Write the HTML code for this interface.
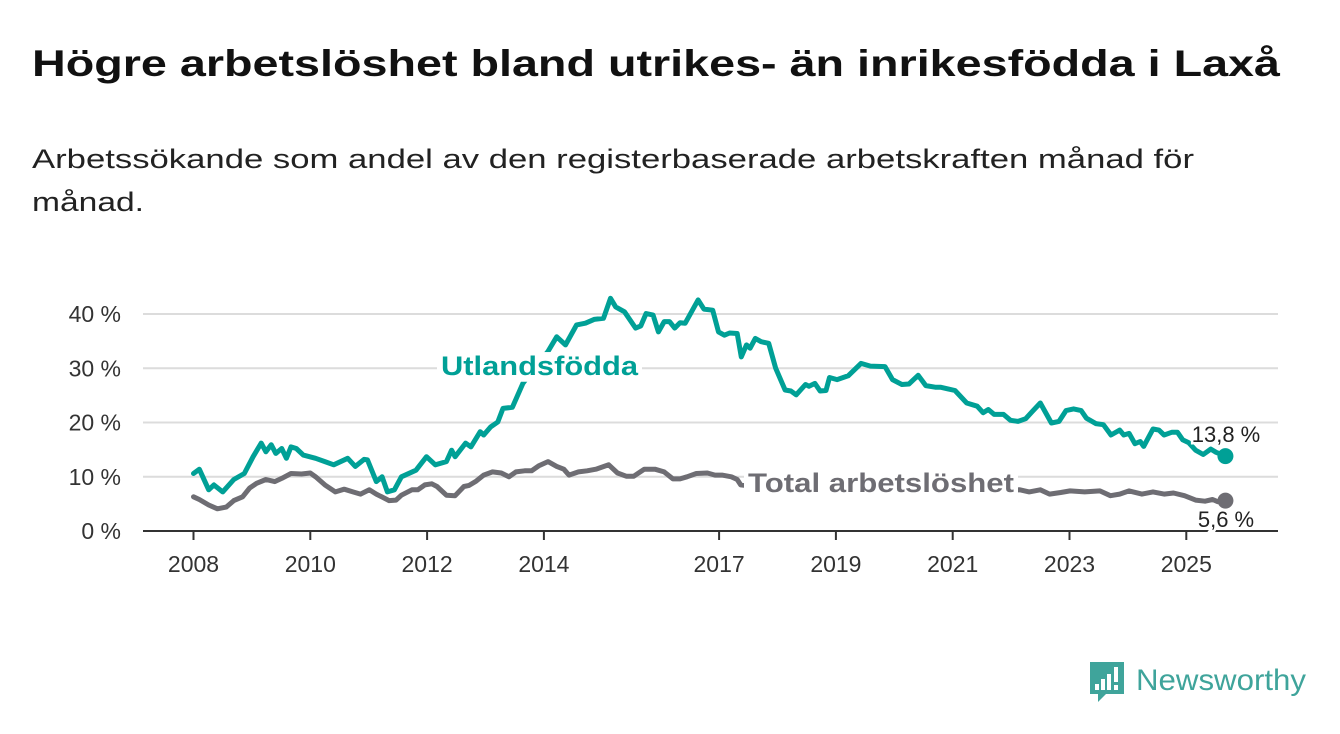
<!DOCTYPE html>
<html><head><meta charset="utf-8"><style>
html,body{margin:0;padding:0;background:#fff;}
svg{display:block;font-family:"Liberation Sans",sans-serif;}
</style></head><body>
<svg id="chart" width="1340" height="734" viewBox="0 0 1340 734" xmlns="http://www.w3.org/2000/svg">
<text x="32" y="76" font-size="37" font-weight="bold" fill="#111" textLength="1248" lengthAdjust="spacingAndGlyphs">Högre arbetslöshet bland utrikes- än inrikesfödda i Laxå</text>
<text x="32" y="168" font-size="27" fill="#222" textLength="1162" lengthAdjust="spacingAndGlyphs">Arbetssökande som andel av den registerbaserade arbetskraften månad för</text>
<text x="32" y="211" font-size="27" fill="#222" textLength="112" lengthAdjust="spacingAndGlyphs">månad.</text>
<g id="grid"></g>
<g id="axes"></g>
<g id="series"></g>
<g id="labels"></g>
<g>
<path d="M1090 662 h34 v32 h-18 l-8 8 v-8 h-8 z" fill="#3fa49b"/>
<rect x="1095" y="684" width="4" height="6" fill="#fff"/>
<rect x="1101" y="679" width="4" height="11" fill="#fff"/>
<rect x="1107" y="674" width="4" height="16" fill="#fff"/>
<rect x="1114" y="667" width="4" height="15" fill="#fff"/>
<rect x="1114" y="685" width="4" height="5" fill="#fff"/>
<text x="1136" y="690" font-size="30" fill="#3fa49b" textLength="170" lengthAdjust="spacingAndGlyphs">Newsworthy</text>
</g>
</svg>
<script>
const yTicks=[0,10,20,30,40];
const xTickYears=[2008,2010,2012,2014,2017,2019,2021,2023,2025];
const foreignT=[2008.0,2008.10,2008.26,2008.35,2008.50,2008.69,2008.87,2009.02,2009.16,2009.24,2009.33,2009.41,2009.51,2009.59,2009.67,2009.76,2009.88,2010.09,2010.25,2010.40,2010.64,2010.77,2010.92,2010.98,2011.13,2011.23,2011.32,2011.44,2011.56,2011.81,2011.99,2012.14,2012.33,2012.42,2012.48,2012.66,2012.75,2012.91,2012.97,2013.09,2013.21,2013.30,2013.46,2013.64,2013.70,2014.07,2014.22,2014.37,2014.56,2014.71,2014.86,2015.02,2015.14,2015.23,2015.38,2015.57,2015.66,2015.75,2015.87,2015.96,2016.06,2016.15,2016.24,2016.33,2016.42,2016.64,2016.74,2016.89,2016.99,2017.09,2017.18,2017.31,2017.38,2017.47,2017.53,2017.62,2017.72,2017.85,2017.97,2018.13,2018.23,2018.32,2018.48,2018.54,2018.64,2018.73,2018.83,2018.89,2019.02,2019.21,2019.43,2019.59,2019.84,2019.97,2020.13,2020.25,2020.41,2020.54,2020.70,2020.79,2020.92,2021.04,2021.24,2021.42,2021.52,2021.61,2021.71,2021.87,2021.99,2022.12,2022.25,2022.37,2022.50,2022.69,2022.82,2022.94,2023.07,2023.20,2023.29,2023.45,2023.58,2023.71,2023.86,2023.93,2024.02,2024.12,2024.21,2024.27,2024.43,2024.53,2024.62,2024.75,2024.85,2024.94,2025.04,2025.16,2025.29,2025.42,2025.51,2025.67];
const foreignV=[10.6,11.4,7.6,8.5,7.2,9.5,10.6,13.7,16.2,14.6,15.9,14.3,15.2,13.4,15.5,15.2,14.0,13.4,12.8,12.2,13.4,11.9,13.2,13.1,9.1,10.0,7.2,7.6,10.0,11.2,13.7,12.2,12.8,14.9,13.7,16.2,15.5,18.3,17.7,19.2,20.1,22.6,22.8,27.2,28.1,33.1,35.8,34.3,38.0,38.3,39.0,39.2,42.9,41.3,40.4,37.4,37.8,40.1,39.8,36.7,38.6,38.6,37.4,38.4,38.3,42.6,40.9,40.7,36.7,36.1,36.5,36.4,32.1,34.3,33.7,35.5,34.9,34.6,30.0,26.0,25.8,25.1,27.0,26.7,27.2,25.8,25.9,28.3,27.9,28.6,30.9,30.4,30.3,27.9,27.0,27.1,28.7,26.8,26.5,26.5,26.2,25.9,23.6,23.0,21.8,22.4,21.5,21.5,20.4,20.2,20.7,22.1,23.6,19.9,20.2,22.2,22.5,22.2,20.8,19.8,19.6,17.7,18.6,17.7,18.0,16.1,16.5,15.6,18.8,18.6,17.7,18.2,18.2,16.8,16.3,14.9,14.1,15.1,14.5,13.8];
const totalT=[2008.0,2008.10,2008.26,2008.41,2008.56,2008.69,2008.84,2008.96,2009.08,2009.24,2009.39,2009.51,2009.67,2009.85,2010.00,2010.09,2010.25,2010.43,2010.58,2010.73,2010.86,2011.01,2011.13,2011.35,2011.47,2011.56,2011.74,2011.84,2011.96,2012.08,2012.17,2012.33,2012.48,2012.63,2012.72,2012.84,2012.97,2013.12,2013.27,2013.40,2013.52,2013.67,2013.79,2013.91,2014.07,2014.22,2014.34,2014.43,2014.59,2014.74,2014.89,2015.11,2015.17,2015.26,2015.41,2015.54,2015.72,2015.90,2016.06,2016.21,2016.33,2016.45,2016.61,2016.80,2016.93,2017.05,2017.21,2017.31,2017.37,2017.8,2018.3,2018.8,2019.3,2019.8,2020.3,2020.8,2021.3,2021.8,2022.15,2022.31,2022.50,2022.66,2022.85,2023.01,2023.26,2023.52,2023.70,2023.86,2024.02,2024.24,2024.43,2024.62,2024.78,2024.97,2025.16,2025.32,2025.45,2025.54,2025.67];
const totalV=[6.3,5.8,4.8,4.1,4.4,5.6,6.3,7.9,8.8,9.5,9.1,9.7,10.6,10.5,10.7,10.0,8.5,7.2,7.7,7.2,6.8,7.6,6.8,5.6,5.7,6.6,7.6,7.6,8.5,8.7,8.2,6.6,6.5,8.2,8.4,9.2,10.3,10.9,10.7,10.0,10.9,11.1,11.1,12.0,12.8,11.9,11.4,10.3,10.9,11.1,11.4,12.2,11.6,10.7,10.1,10.1,11.4,11.4,10.9,9.6,9.6,10.0,10.6,10.7,10.3,10.3,10.0,9.5,8.5,8.0,8.3,8.0,8.2,8.4,8.1,8.0,7.7,7.5,7.6,7.2,7.6,6.8,7.1,7.4,7.2,7.4,6.5,6.8,7.4,6.8,7.2,6.8,7.0,6.5,5.7,5.5,5.8,5.4,5.6];
const NS='http://www.w3.org/2000/svg';
const x=t=>193.5+58.4*(t-2008);
const y=v=>531-5.425*v;
function mk(tag,parent,attrs){const e=document.createElementNS(NS,tag);for(const k in attrs)e.setAttribute(k,attrs[k]);parent.appendChild(e);return e;}
const grid=document.getElementById('grid'),axes=document.getElementById('axes'),series=document.getElementById('series'),labels=document.getElementById('labels');
yTicks.forEach(v=>{
  if(v>0){const l=mk('line',grid,{x1:143,x2:1278,y1:y(v),y2:y(v),stroke:'#dcdcdc','stroke-width':2});
  
  }
  const t=mk('text',axes,{x:121,y:y(v)+8,'font-size':23,fill:'#333','text-anchor':'end'});
  
  
  t.textContent=v+' %';
});
const ax=mk('line',axes,{x1:143,x2:1278,y1:531,y2:531,stroke:'#333','stroke-width':2});


xTickYears.forEach(yr=>{
  const tk=mk('line',axes,{x1:x(yr),x2:x(yr),y1:531,y2:540,stroke:'#333','stroke-width':2});
  
  
  const t=mk('text',axes,{x:x(yr),y:572,'font-size':23,fill:'#333','text-anchor':'middle'});
  
  
  t.textContent=yr;
});
function line(T,V,color,name){
  const d=T.map((t,i)=>(i?'L':'M')+x(t).toFixed(1)+' '+y(V[i]).toFixed(1)).join(' ');
  const p=mk('path',series,{d:d,fill:'none',stroke:color,'stroke-width':5,'stroke-linejoin':'round','stroke-linecap':'round'});
  
  
  const c=mk('circle',series,{cx:x(T[T.length-1]),cy:y(V[V.length-1]),r:8,fill:color});
  
  
}
line(totalT,totalV,'#6e6d73','total');
line(foreignT,foreignV,'#00a096','foreign');
function label(txt,xx,yy,size,color,bold,name,w){
  const r=mk('rect',labels,{x:xx-4,y:yy-size*0.85,width:w+8,height:size*1.1,fill:'#fff'});
  
  
  const t=mk('text',labels,{x:xx,y:yy,'font-size':size,fill:color,'font-weight':bold?'bold':'normal',textLength:w,lengthAdjust:'spacingAndGlyphs'});
  
  
  t.textContent=txt;
}
label('Utlandsfödda',441,375,27,'#00a096',true,'foreign-series-label',197);
label('Total arbetslöshet',748,492,27,'#6e6d73',true,'total-series-label',266);
function val(txt,xx,yy,name){
  const t=mk('text',labels,{x:xx,y:yy,'font-size':22,fill:'#222','text-anchor':'middle',stroke:'#fff','stroke-width':5,'paint-order':'stroke'});
  
  
  t.textContent=txt;
}
val(foreignV[foreignV.length-1].toFixed(1).replace('.',',')+' %',1226,442,'foreign-end-value');
val(totalV[totalV.length-1].toFixed(1).replace('.',',')+' %',1226,527,'total-end-value');
</script>
</body></html>
